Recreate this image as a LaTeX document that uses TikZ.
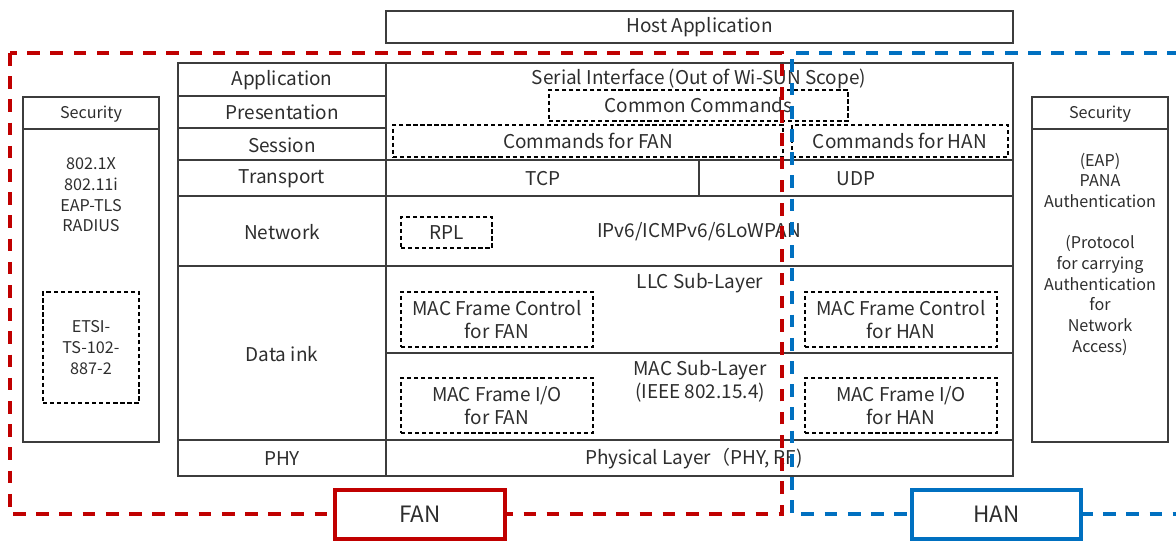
\documentclass[tikz,border=0pt]{standalone}
\usepackage{fontspec}
\setmainfont{Noto Sans CJK JP}
\usetikzlibrary{fit}
\definecolor{fanred}{RGB}{192,0,0}
\definecolor{hanblue}{RGB}{0,112,192}
\definecolor{rulegray}{RGB}{60,60,60}
\definecolor{inkgray}{RGB}{45,45,45}

\begin{document}
\begin{tikzpicture}[x=0.025cm, y=-0.025cm,
  rule/.style={draw=rulegray, line width=0.9pt},
  dbox/.style={draw=black, line width=1pt, dash pattern=on 3pt off 2pt, inner sep=0pt},
  lbl/.style={text=inkgray, font=\fontsize{13.5}{16.5}\selectfont, align=center, inner sep=0pt},
  sec/.style={text=inkgray, font=\fontsize{11.5}{14.7}\selectfont, align=center, inner sep=0pt},
  fanline/.style={draw=fanred, line width=2.2pt, dash pattern=on 9pt off 7.5pt},
  hanline/.style={draw=hanblue, line width=2.2pt, dash pattern=on 9pt off 7.5pt},
  tag/.style={fill=white, line width=2.5pt, inner sep=0pt},
  tagtext/.style={text=inkgray, font=\fontsize{16}{18}\selectfont, inner sep=0pt}]

\useasboundingbox (0,0) rectangle (1176,541);

% host on top
\node[rule, inner sep=0pt, fit={(386,11) (1013,43)}, label={[lbl]center:Host Application}] (host) {};

% layer table
\draw[rule] (178,63) rectangle (1013,476);
\draw[rule] (386,63) -- (386,476);
\foreach \y in {96,128}
  \draw[rule] (178,\y) -- (386,\y);
\foreach \y in {160,196,266,440}
  \draw[rule] (178,\y) -- (1013,\y);
\draw[rule] (699,160) -- (699,196);
\draw[rule] (386,353) -- (1013,353);

\foreach \name/\txt/\y in {app/Application/80, pres/Presentation/112, sess/Session/145,
    trans/Transport/179, net/Network/232, dlink/Data ink/354, phy/PHY/459}
  \node[lbl] (\name) at (282,\y) {\txt};

% right column
\node[lbl] (serial) at (699,79) {Serial Interface (Out of Wi-SUN Scope)};
\node[dbox, fit={(549,90) (848,121)}, label={[lbl]center:Common Commands}] (common) {};
\node[dbox, fit={(393,125) (783,157)}, label={[lbl]center:Commands for FAN}] (cmdfan) {};
\node[dbox, fit={(792,125) (1008,157)}, label={[lbl]center:Commands for HAN}] (cmdhan) {};
\node[lbl] (tcp) at (543,179) {TCP};
\node[lbl] (udp) at (856,179) {UDP};
\node[dbox, fit={(401,217) (492,248)}, label={[lbl]center:RPL}] (rpl) {};
\node[lbl] (ipv6) at (699,232) {IPv6/ICMPv6/6LoWPAN};
\node[lbl] (llc) at (700,283) {LLC Sub-Layer};
\node[dbox, fit={(401,292) (593,347)}, label={[lbl]center:MAC Frame Control\\for FAN}] (ctlfan) {};
\node[dbox, fit={(805,292) (997,347)}, label={[lbl]center:MAC Frame Control\\for HAN}] (ctlhan) {};
\node[lbl] (mac) at (700,381) {MAC Sub-Layer\\(IEEE 802.15.4)};
\node[dbox, fit={(401,378) (593,433)}, label={[lbl]center:MAC Frame I/O\\for FAN}] (iofan) {};
\node[dbox, fit={(805,378) (997,433)}, label={[lbl]center:MAC Frame I/O\\for HAN}] (iohan) {};
\node[lbl] (phylayer) at (694,459) {Physical Layer（PHY, RF)};

% security, FAN side
\draw[rule] (23,97) rectangle (159,442);
\draw[rule] (23,129) -- (159,129);
\node[sec] (secfan) at (91,114) {Security};
\node[sec] (algfan) at (91,195) {802.1X\\802.11i\\EAP-TLS\\RADIUS};
\node[dbox, fit={(43,292) (139,403)}, label={[sec]center:ETSI-\\TS-102-\\887-2}] (etsi) {};

% security, HAN side
\draw[rule] (1032,97) rectangle (1168,442);
\draw[rule] (1032,129) -- (1168,129);
\node[sec] (sechan) at (1100,114) {Security};
\node[sec] (pana) at (1100,254) {(EAP)\\PANA\\Authentication\\[14.7pt](Protocol\\for carrying\\Authentication\\for\\Network\\Access)};

% network frames
\draw[fanline] (10,53) rectangle (782,514);
\draw[hanline] (1180,53) -- (792,53) -- (792,514) -- (1180,514);
\node[tag, draw=fanred, fit={(335,490) (505,539)}, label={[tagtext]center:FAN}] (fan) {};
\node[tag, draw=hanblue, fit={(912,490) (1081,539)}, label={[tagtext]center:HAN}] (han) {};
\end{tikzpicture}
\end{document}
